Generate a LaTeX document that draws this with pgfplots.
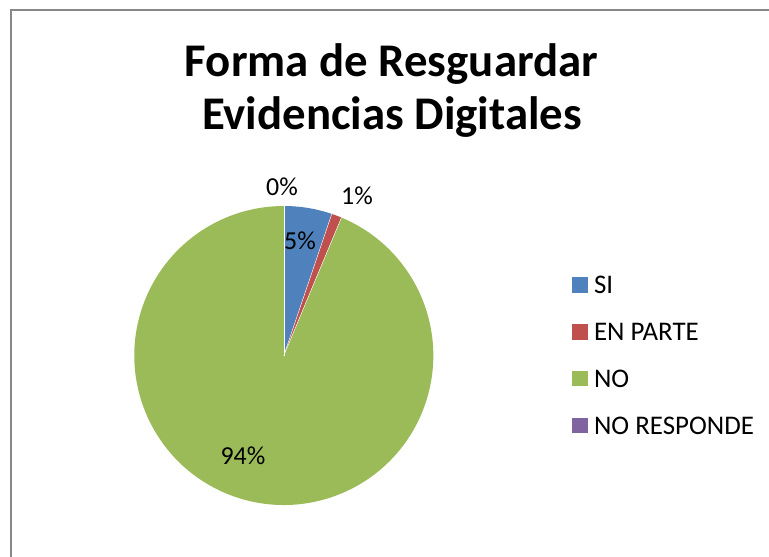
\documentclass[border=0pt]{standalone}
\usepackage{fontspec}
\setmainfont{Carlito}
\usepackage{pgfplots}
\usepackage{pgfplotstable}
\pgfplotsset{compat=1.18}
\definecolor{cSI}{HTML}{4F81BD}
\definecolor{cEP}{HTML}{C0504D}
\definecolor{cNO}{HTML}{9BBB59}
\definecolor{cNR}{HTML}{8064A2}
\pgfplotstableread{
label value
SI 5.2
ENPARTE 1.1
NO 93.7
NORESPONDE 0
}\piedata
\pgfplotstablegetelem{0}{value}\of\piedata \let\vA\pgfplotsretval
\pgfplotstablegetelem{1}{value}\of\piedata \let\vB\pgfplotsretval
\pgfplotstablegetelem{2}{value}\of\piedata \let\vC\pgfplotsretval
\pgfplotstablegetelem{3}{value}\of\piedata \let\vD\pgfplotsretval
\pgfmathsetmacro\aA{90}
\pgfmathsetmacro\aB{90-3.6*\vA}
\pgfmathsetmacro\aC{\aB-3.6*\vB}
\pgfmathsetmacro\aD{\aC-3.6*\vC}
\pgfmathsetmacro\aE{\aD-3.6*\vD}
\def\cx{283.8}
\def\cy{355.5}
\def\R{149.5bp}
\begin{document}
\begin{tikzpicture}
\begin{axis}[
  scale only axis, width=769bp, height=557bp,
  xmin=0, xmax=769, ymin=0, ymax=557, y dir=reverse,
  hide axis, clip=false,
  legend style={draw=none, fill=none, at={(axis cs:569,273)}, anchor=north west,
    font=\fontsize{27}{31}\selectfont, row sep=27.5bp,
    nodes={inner sep=1bp, text depth=0pt}},
  legend cell align=left,
  legend image code/.code={\fill[#1] (0bp,-7bp) rectangle (14.5bp,7.5bp);\path (20.5bp,0bp);},
]
\addlegendimage{cSI}\addlegendentry{SI}
\addlegendimage{cEP}\addlegendentry{EN PARTE}
\addlegendimage{cNO}\addlegendentry{NO}
\addlegendimage{cNR}\addlegendentry{NO RESPONDE}
\fill[cSI] (axis cs:\cx,\cy) -- ++(\aA:\R) arc[start angle=\aA, end angle=\aB, radius=\R] -- cycle;
\fill[cEP] (axis cs:\cx,\cy) -- ++(\aB:\R) arc[start angle=\aB, end angle=\aC, radius=\R] -- cycle;
\fill[cNO] (axis cs:\cx,\cy) -- ++(\aC:\R) arc[start angle=\aC, end angle=\aD, radius=\R] -- cycle;
\draw[white, line width=0.4bp] (axis cs:\cx,\cy) -- ++(\aA:\R);
\draw[white, line width=0.4bp] (axis cs:\cx,\cy) -- ++(\aB:\R);
\draw[white, line width=0.4bp] (axis cs:\cx,\cy) -- ++(\aC:\R);
\node[font=\fontsize{26}{30}\selectfont] at (axis cs:282,187) {0\%};
\node[font=\fontsize{26}{30}\selectfont] at (axis cs:357,196) {1\%};
\node[font=\fontsize{26}{30}\selectfont] at (axis cs:300,241) {5\%};
\node[font=\fontsize{26}{30}\selectfont] at (axis cs:243,456) {94\%};
\node[font=\fontsize{47}{52}\bfseries, anchor=base] at (axis cs:391.5,76) {Forma de Resguardar};
\node[font=\fontsize{47}{52}\bfseries, anchor=base] at (axis cs:392,129) {Evidencias Digitales};
\draw[color=black!47, line width=2bp] (axis cs:10.5,600) -- (axis cs:10.5,10.5) -- (axis cs:800,10.5);
\end{axis}
\pgfresetboundingbox
\path[use as bounding box] (current axis.south west) rectangle (current axis.north east);
\end{tikzpicture}
\end{document}
